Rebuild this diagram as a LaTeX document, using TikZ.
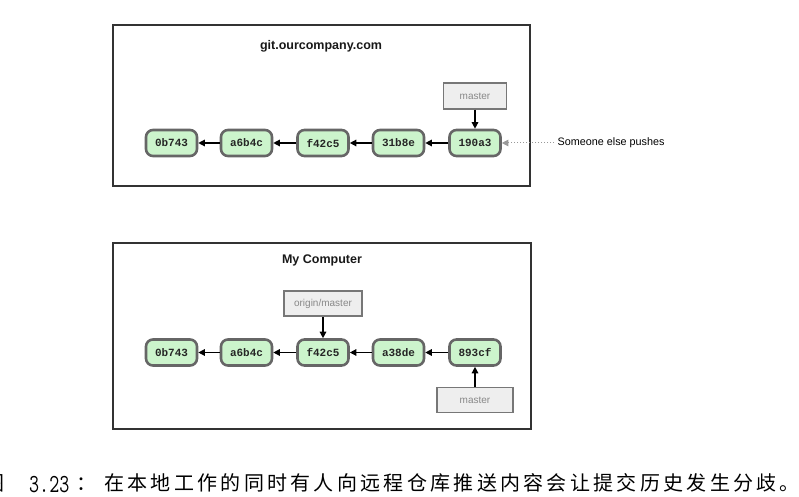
\documentclass[tikz,border=0pt]{standalone}
\usepackage{fontspec}
\setmainfont{Liberation Sans}
\newfontfamily\cjk{Noto Sans CJK SC}
\newfontfamily\monob{Liberation Mono}
\usetikzlibrary{arrows.meta}
\definecolor{frameC}{HTML}{333333}
\definecolor{commitB}{HTML}{666666}
\definecolor{commitF}{HTML}{CCF4CC}
\definecolor{branchB}{HTML}{777777}
\definecolor{branchF}{HTML}{EEEEEE}
\definecolor{branchT}{HTML}{888888}
\definecolor{pushC}{HTML}{999999}
\tikzset{
  framebox/.style={draw=frameC, line width=1.8pt, fill=white},
  titletext/.style={font=\bfseries\fontsize{12.5}{15}\selectfont, text=black!90},
  commit/.style={draw=commitB, fill=commitF, line width=2.6pt, rounded corners=7pt,
    minimum width=51pt, minimum height=26pt, inner sep=0pt,
    font=\monob\bfseries\fontsize{11}{12}\selectfont, text=black!85},
  branch/.style={draw=branchB, fill=branchF, line width=1.5pt, inner sep=0pt,
    font=\fontsize{10}{12}\selectfont, text=branchT},
  arr/.style={-{Triangle[length=6.5pt,width=6.5pt]}, line width=1.3pt, black},
  pusharr/.style={-{Triangle[length=6.5pt,width=6.5pt]}, line width=1pt, pushC, dotted},
  captext/.style={font=\cjk\fontsize{20}{20}\selectfont, inner sep=0pt, anchor=base west, text=black}
}
\begin{document}
\begin{tikzpicture}[x=1pt,y=-1pt]
\useasboundingbox (0,0) rectangle (799,497);

% remote repository
\node[framebox, minimum width=417pt, minimum height=161pt] (remote) at (321.5,105.5) {};
\node[titletext] (rtitle) at (321,46) {git.ourcompany.com};
\node[commit] (r1) at (171.5,143) {0b743};
\node[commit] (r2) at (246.5,143) {a6b4c};
\node[commit] (r3) at (323,143) {f42c5};
\node[commit] (r4) at (398.5,143) {31b8e};
\node[commit] (r5) at (475,143) {190a3};
\node[branch, minimum width=63pt, minimum height=26pt] (rmaster) at (475,96) {master};
\draw[arr] (r2.west) -- (r1.east);
\draw[arr] (r3.west) -- (r2.east);
\draw[arr] (r4.west) -- (r3.east);
\draw[arr] (r5.west) -- (r4.east);
\draw[arr] (rmaster.south) -- (r5.north);
\node[anchor=west, font=\fontsize{10.8}{13}\selectfont, inner sep=3.5pt] (push) at (554,143) {Someone else pushes};
\draw[pusharr] (push.west) -- (r5.east);

% local computer
\node[framebox, minimum width=418pt, minimum height=186pt] (local) at (322,336) {};
\node[titletext] (ltitle) at (322,260) {My Computer};
\node[commit] (l1) at (171.5,352.5) {0b743};
\node[commit] (l2) at (246.5,352.5) {a6b4c};
\node[commit] (l3) at (323,352.5) {f42c5};
\node[commit] (l4) at (398.5,352.5) {a38de};
\node[commit] (l5) at (475,352.5) {893cf};
\node[branch, minimum width=78pt, minimum height=25pt] (origin) at (323,303.5) {origin/master};
\node[branch, minimum width=76pt, minimum height=25pt] (lmaster) at (475,400) {master};
\draw[arr] (l2.west) -- (l1.east);
\draw[arr] (l3.west) -- (l2.east);
\draw[arr] (l4.west) -- (l3.east);
\draw[arr] (l5.west) -- (l4.east);
\draw[arr] (origin.south) -- (l3.north);
\draw[arr] (lmaster.north) -- (l5.south);

% caption
\node[captext] (fig) at (-16,490) {图};
\node[inner sep=0pt, anchor=base west] (num) at (29,492) {\scalebox{0.75}[1]{\fontsize{26}{26}\selectfont\ttfamily 3.23}};
\node[captext] (colon) at (76,490) {：};
\foreach \c [count=\i from 0] in {在,本,地,工,作,的,同,时,有,人,向,远,程,仓,库,推,送,内,容,会,让,提,交,历,史,发,生,分,歧,。}
  \node[captext] (c\i) at ({104+23.3*\i},490) {\c};
\end{tikzpicture}
\end{document}
